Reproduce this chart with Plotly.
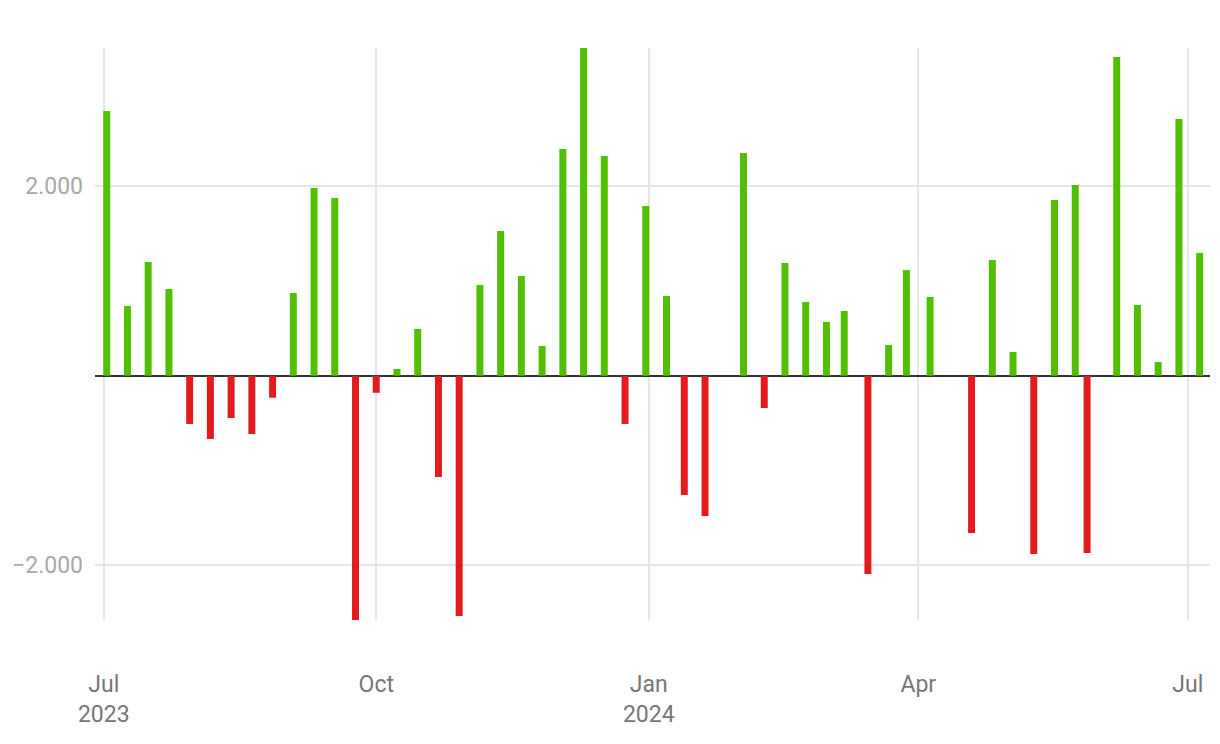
import plotly.graph_objects as go
import pandas as pd

# Weekly dates
dates = [
    "2023-07-02", "2023-07-09", "2023-07-16", "2023-07-23", "2023-07-30",
    "2023-08-06", "2023-08-13", "2023-08-20", "2023-08-27", "2023-09-03",
    "2023-09-10", "2023-09-17", "2023-09-24", "2023-10-01", "2023-10-08",
    "2023-10-15", "2023-10-22", "2023-10-29", "2023-11-05", "2023-11-12",
    "2023-11-19", "2023-11-26", "2023-12-03", "2023-12-10", "2023-12-17",
    "2023-12-24", "2023-12-31", "2024-01-07", "2024-01-13", "2024-01-20",
    "2024-02-02", "2024-02-09", "2024-02-16", "2024-02-23", "2024-03-01",
    "2024-03-07", "2024-03-15", "2024-03-22", "2024-03-28", "2024-04-05",
    "2024-04-19", "2024-04-26", "2024-05-03", "2024-05-10", "2024-05-17",
    "2024-05-24", "2024-05-28", "2024-06-07", "2024-06-14", "2024-06-21",
    "2024-06-28", "2024-07-05",
]

values = [
    2791, 735, 1199, 914, -509,
    -667, -446, -615, -232, 872,
    1979, 1873, -2576, -180, 71,
    492, -1068, -2534, 956, 1526,
    1051, 313, 2390, 3455, 2316,
    -509, 1789, 840, -1258, -1479,
    2348, -341, 1188, 777, 566,
    682, -2091, 324, 1114, 830,
    -1658, 1220, 250, -1880, 1852,
    2011, -1869, 3360, 745, 144,
    2706, 1294,
]

y_tickvals = [-2000, 2000]

POS_COLOR = "#52C000"
NEG_COLOR = "#E31B1F"
colors = [POS_COLOR if v >= 0 else NEG_COLOR for v in values]

DAY_MS = 86400000
bar_width = 2.36 * DAY_MS

fig = go.Figure(
    go.Bar(
        x=pd.to_datetime(dates),
        y=values,
        marker=dict(color=colors, line=dict(width=0)),
        width=[bar_width] * len(values),
        showlegend=False,
    )
)

fig.update_layout(
    width=1220,
    height=744,
    margin=dict(l=95, r=10, t=48, b=124),
    paper_bgcolor="white",
    plot_bgcolor="white",
    separators=",.",
    font=dict(family="Roboto", size=23),
    xaxis=dict(
        type="date",
        range=["2023-06-28 01:00", "2024-07-08 12:00"],
        dtick="M3",
        tick0="2023-07-01",
        tickformat="%b\n%Y",
        showgrid=True,
        gridcolor="#E6E6E6",
        gridwidth=2,
        zeroline=False,
        showline=False,
        ticks="",
        ticklabelstandoff=48,
        tickfont=dict(family="Roboto", size=23, color="#777777"),
    ),
    yaxis=dict(
        range=[min(values), max(values)],
        tickvals=y_tickvals,
        tickformat=",",
        showgrid=True,
        gridcolor="#E6E6E6",
        gridwidth=2,
        zeroline=True,
        zerolinecolor="#333333",
        zerolinewidth=2,
        showline=False,
        ticks="",
        ticklabelstandoff=11,
        tickfont=dict(family="Roboto", size=23, color="#A8A8A8"),
    ),
)

fig.write_html("out.html")
